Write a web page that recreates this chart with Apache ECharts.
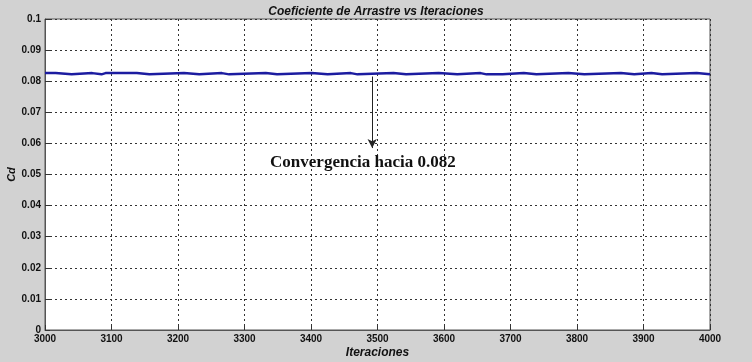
<!DOCTYPE html>
<html><head><meta charset="utf-8">
<script src="https://cdn.jsdelivr.net/npm/echarts@6/dist/echarts.min.js"></script>
<style>html,body{margin:0;padding:0;background:#d2d2d2}#c{width:752px;height:362px}</style>
</head><body><div id="c"></div>
<script>
const titleText = "Coeficiente de Arrastre vs Iteraciones";
const xName = "Iteraciones";
const yName = "Cd";
const annotation = "Convergencia hacia 0.082";
const iterations = [3000,3016,3019,3040,3043,3071,3074,3085,3088,3091,3093,3095,3138,3141,3157,3160,3209,3212,3232,3235,3266,3269,3277,3280,3332,3335,3349,3352,3401,3404,3425,3428,3460,3463,3470,3473,3524,3527,3543,3546,3592,3595,3620,3623,3655,3658,3664,3669,3688,3691,3720,3723,3739,3742,3787,3790,3811,3814,3866,3869,3886,3889,3912,3915,3928,3931,3980,3983,4000];
const cd = [0.0826,0.0826,0.0822,0.0822,0.0826,0.0826,0.0822,0.0822,0.0826,0.0826,0.0822,0.0826,0.0826,0.0822,0.0822,0.0826,0.0826,0.0822,0.0822,0.0826,0.0826,0.0822,0.0822,0.0826,0.0826,0.0822,0.0822,0.0826,0.0826,0.0822,0.0822,0.0826,0.0826,0.0822,0.0822,0.0826,0.0826,0.0822,0.0822,0.0826,0.0826,0.0822,0.0822,0.0826,0.0826,0.0822,0.0822,0.0822,0.0822,0.0826,0.0826,0.0822,0.0822,0.0826,0.0826,0.0822,0.0822,0.0826,0.0826,0.0822,0.0822,0.0826,0.0826,0.0822,0.0822,0.0826,0.0826,0.0822,0.0822];
const arrowX = 3492, arrowTop = 0.0815, arrowBottom = 0.0585;
const labelPos = [3478, 0.0537];

const chart = echarts.init(document.getElementById('c'));
const lab = {color:'#111', fontSize:10, fontFamily:'Liberation Sans Narrow, Liberation Sans, Arial', fontWeight:'bold'};
chart.setOption({
  backgroundColor:'#d2d2d2',
  animation:false,
  title:{text:titleText, left:'center', top:1, textStyle:{fontSize:12, fontStyle:'italic', fontWeight:'bold', color:'#111', fontFamily:'Liberation Sans Narrow, Liberation Sans, Arial'}},
  grid:{left:45, right:42, top:19, bottom:32, containLabel:false, outerBoundsMode:'none', show:true, backgroundColor:'#fff', borderColor:'#555', borderWidth:1},
  xAxis:{type:'value', min:3000, max:4000, interval:100, name:xName, nameLocation:'middle', nameGap:17, nameMoveOverlap:false,
    nameTextStyle:{fontSize:12, fontStyle:'italic', fontWeight:'bold', color:'#111', fontFamily:'Liberation Sans Narrow, Liberation Sans, Arial'},
    axisLine:{lineStyle:{color:'#555'}}, axisTick:{inside:true, length:5, lineStyle:{color:'#333'}},
    axisLabel:Object.assign({margin:4, formatter:v=>String(v)}, lab),
    splitLine:{show:true, lineStyle:{type:[2,3], color:'#333', width:1}}},
  yAxis:{type:'value', min:0, max:0.1, interval:0.01, name:yName, nameLocation:'middle', nameGap:28, nameMoveOverlap:false,
    nameTextStyle:{fontSize:11, fontStyle:'italic', fontWeight:'bold', color:'#111'},
    axisLine:{show:true, lineStyle:{color:'#555'}}, axisTick:{show:true, inside:true, length:5, lineStyle:{color:'#333'}},
    axisLabel:Object.assign({margin:4, formatter:v=>String(+v.toFixed(3))}, lab),
    splitLine:{show:true, lineStyle:{type:[2,3], color:'#333', width:1}}},
  series:[{type:'line', data:iterations.map((x,i)=>[x,cd[i]]), showSymbol:false, smooth:false,
    lineStyle:{color:'#1c1ca0', width:2.5},
    markLine:{silent:true, symbol:['none','arrow'], symbolSize:[7,9], label:{show:false},
      lineStyle:{color:'#222', width:1, type:'solid'},
      data:[[{coord:[arrowX, arrowTop]},{coord:[arrowX, arrowBottom]}]]},
    markPoint:{silent:true, symbolSize:0, data:[{coord:labelPos}],
      label:{show:true, formatter:annotation, color:'#111', fontSize:17, fontWeight:'bold', fontFamily:'Liberation Serif, Times New Roman, serif'}}
  }]
});
</script></body></html>
